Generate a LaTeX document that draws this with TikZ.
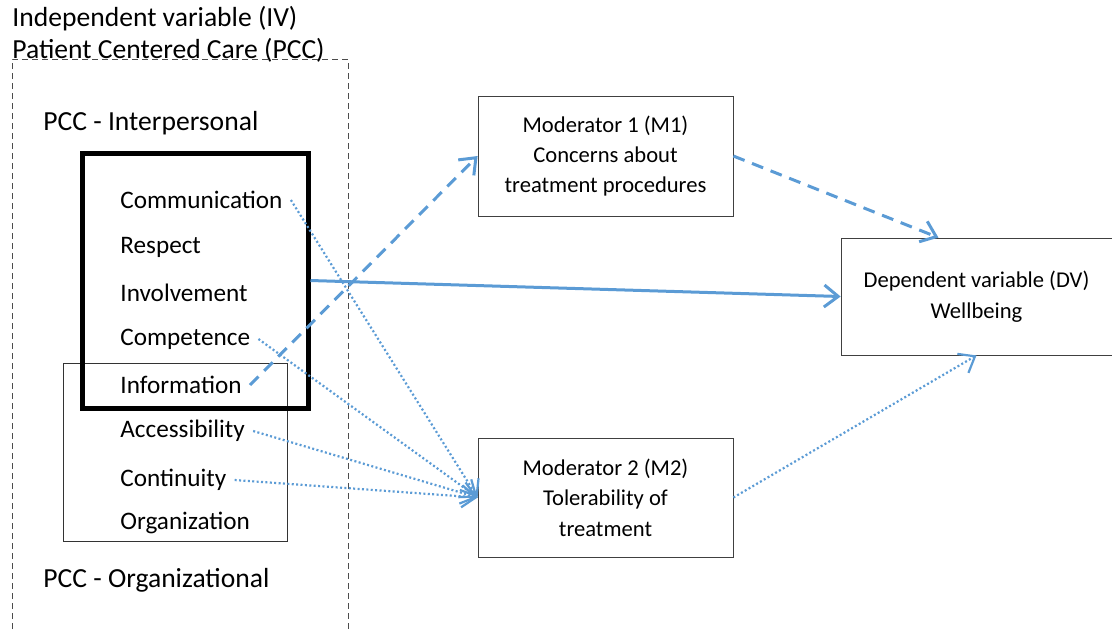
\documentclass[tikz,border=0pt]{standalone}
\usepackage{fontspec}
\setmainfont{Carlito}
\usepackage{xcolor}
\usepackage{tikz}
\usetikzlibrary{arrows.meta, positioning, fit, calc}

\definecolor{linkblue}{RGB}{91,155,213}

\begin{document}
\begin{tikzpicture}[
    x=0.5pt, y=-0.5pt,
    font=\fontsize{12.6}{16}\selectfont,
    label/.style={anchor=west, inner sep=0pt, font=\fontsize{13.8}{16}\selectfont},
    item/.style={anchor=west, inner sep=4pt},
    modbox/.style={rectangle, draw=black!75, thin, align=center, inner sep=0pt, font=\fontsize{11.3}{15.2}\selectfont},
    solidarrow/.style={-{Straight Barb[length=7pt, width=11pt]}, linkblue, line width=1.5pt},
    dasharrow/.style={-{Straight Barb[length=7pt, width=11pt]}, linkblue, line width=1.5pt, dash pattern=on 6pt off 4pt},
    dotarrow/.style={-{Straight Barb[length=7pt, width=11pt]}, linkblue, line width=1.1pt, dash pattern=on 1pt off 1.2pt}
]
\useasboundingbox (0,0) rectangle (1112,629);

% Independent variable frame
\node[label, align=left] (title) at (12,34) {Independent variable (IV)\\Patient Centered Care (PCC)};
\draw[black!70, thin, densely dashed] (12,629) -- (12,59) -- (348,59) -- (348,629);

\node[label] (inter) at (43,123) {PCC - Interpersonal};
\node[label] (orga) at (43,580) {PCC - Organizational};

% PCC dimensions
\node[item] (comm) at (112,200) {Communication};
\node[item] (resp) at (112,247) {Respect};
\node[item] (invo) at (112,293) {Involvement};
\node[item] (comp) at (112,339) {Competence};
\node[item] (info) at (112,385) {Information};
\node[item] (acce) at (112,431) {Accessibility};
\node[item] (cont) at (112,480) {Continuity};
\node[item] (orgn) at (112,523) {Organization};

\node[draw=black!80, thin, inner sep=0pt, fit={(63,363) (287,541)}] (orgbox) {};
\node[draw, line width=2.5pt, inner sep=0pt, fit={(82,153) (308,408)}] (ipbox) {};

% Moderators and outcome
\node[modbox, minimum width=127.5pt, minimum height=60pt] (m1) at (605.5,156) {Moderator 1 (M1)\\Concerns about\\treatment procedures};
\node[modbox, minimum width=127.5pt, minimum height=59.5pt] (m2) at (605.5,497.5) {Moderator 2 (M2)\\Tolerability of\\treatment};
\node[modbox, minimum width=135.5pt, minimum height=58.5pt] (dv) at (976.5,296.5) {Dependent variable (DV)\\Wellbeing};

% Paths
\draw[solidarrow] (ipbox.east) -- (dv.west);
\draw[dasharrow] (info.east) -- (m1.west);
\draw[dasharrow] (m1.east) -- ($(dv.north west)!0.36!(dv.north east)$);
\draw[dotarrow] (comm.east) -- (m2.west);
\draw[dotarrow] (comp.east) -- (m2.west);
\draw[dotarrow] (acce.east) -- (m2.west);
\draw[dotarrow] (cont.east) -- (m2.west);
\draw[dotarrow] (m2.east) -- (dv.south);

\end{tikzpicture}
\end{document}
